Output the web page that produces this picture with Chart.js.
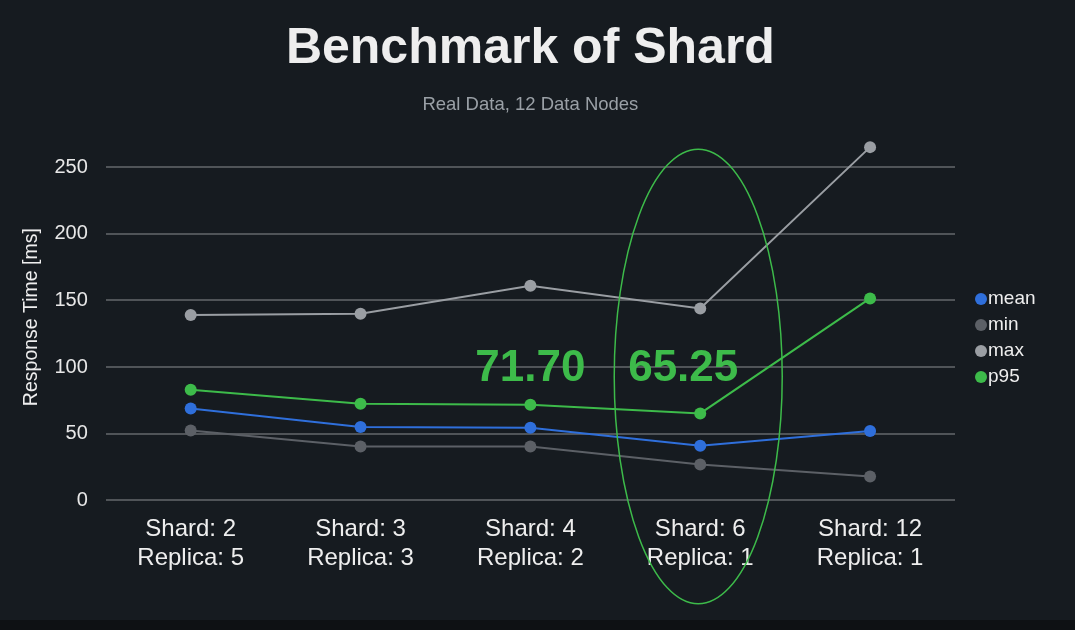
<!DOCTYPE html>
<html>
<head>
<meta charset="utf-8">
<script src="https://cdn.jsdelivr.net/npm/chart.js@4.4.1/dist/chart.umd.min.js"></script>
<style>
  html, body { margin: 0; padding: 0; background: #0e1114; }
  #wrap { position: relative; width: 1075px; height: 620px; background: #161b20; }
  #legend { position: absolute; left: 975px; top: 286px; font: 19px "Liberation Sans", Arial, sans-serif; color: #eeeeee; }
  #legend div { height: 26px; line-height: 24px; white-space: nowrap; }
  #legend span { display: inline-block; width: 12px; height: 12px; border-radius: 50%; margin-right: 1px; vertical-align: -1px; }
</style>
</head>
<body>
<div id="wrap">
  <canvas id="shardChart" width="1075" height="620"></canvas>
  <div id="legend"></div>
</div>
<script>
Chart.defaults.color = '#e8e8e8'
Chart.defaults.font.family = '"Liberation Sans", Arial, sans-serif'

const categories = [
    ['Shard: 2', 'Replica: 5'],
    ['Shard: 3', 'Replica: 3'],
    ['Shard: 4', 'Replica: 2'],
    ['Shard: 6', 'Replica: 1'],
    ['Shard: 12', 'Replica: 1']
]
const meanValues = [69, 55, 54.5, 41, 52]
const minValues = [52.5, 40.5, 40.5, 27, 18]
const maxValues = [139, 140, 161, 144, 265]
const p95Values = [83, 72.5, 71.7, 65.25, 151.5]
const yTicks = [0, 50, 100, 150, 200, 250]

// big callouts over the chart
const callouts = [
    { text: '71.70', index: 2, value: 99 },
    { text: '65.25', index: 3, value: 99 }
]

const green = '#3dbb4a'

const makeSet = (label, data, color) => ({
    label,
    data,
    borderColor: color,
    backgroundColor: color,
    borderWidth: 2,
    pointRadius: 6,
    pointHoverRadius: 6,
    pointBorderWidth: 0,
    tension: 0
})

const highlightPlugin = {
    id: 'highlight',
    afterDatasetsDraw(chart) {
        const { ctx, scales: { x, y } } = chart
        ctx.save()
        ctx.fillStyle = green
        ctx.font = 'bold 44px "Liberation Sans", Arial, sans-serif'
        ctx.textAlign = 'center'
        ctx.textBaseline = 'middle'
        callouts.forEach(c => {
            const dx = c.index === 3 ? -17 : 0
            ctx.fillText(c.text, x.getPixelForValue(c.index) + dx, y.getPixelForValue(c.value))
        })
        // ellipse round the Shard 6 column
        const cx = x.getPixelForValue(3) - 2
        const top = y.getPixelForValue(263.5)
        const cy = y.getPixelForValue(93)
        ctx.beginPath()
        ctx.strokeStyle = green
        ctx.lineWidth = 1.5
        ctx.ellipse(cx, cy, 84, cy - top, 0, 0, Math.PI * 2)
        ctx.stroke()
        ctx.restore()
    }
}

const data = {
    labels: categories,
    datasets: [
        makeSet('mean', meanValues, '#2f6fdb'),
        makeSet('min', minValues, '#5c6066'),
        makeSet('max', maxValues, '#9a9ea3'),
        makeSet('p95', p95Values, green)
    ]
}

const options = {
    responsive: false,
    animation: false,
    layout: { padding: { left: 20, right: 120, top: 0, bottom: 40 } },
    plugins: {
        title: {
            display: true,
            fullSize: false,
            text: 'Benchmark of Shard',
            color: '#eeeeee',
            font: { size: 50, weight: 'bold' },
            padding: { top: 19, bottom: 5 }
        },
        subtitle: {
            display: true,
            fullSize: false,
            text: 'Real Data, 12 Data Nodes',
            color: '#9aa0a6',
            font: { size: 18.5 },
            padding: { top: 10, bottom: 17.6 }
        },
        legend: { display: false },
        tooltip: { enabled: false }
    },
    scales: {
        x: {
            offset: true,
            grid: { display: false },
            border: { display: false },
            ticks: {
                color: '#eeeeee',
                font: { size: 24, lineHeight: 1.2 },
                padding: 7,
                maxRotation: 0
            }
        },
        y: {
            min: 0,
            max: 275,
            border: { display: false },
            grid: { color: '#505458', lineWidth: 2, drawTicks: false },
            ticks: { stepSize: 50, color: '#e8e8e8', font: { size: 20 }, padding: 18 },
            afterBuildTicks: axis => { axis.ticks = yTicks.map(v => ({ value: v })) },
            title: {
                display: true,
                text: 'Response Time [ms]',
                color: '#eeeeee',
                font: { size: 19.5 },
                padding: { top: 0, bottom: -7 }
            }
        }
    }
}

const chart = new Chart('shardChart', { type: 'line', data, options, plugins: [highlightPlugin] })

// legend as plain html, built from the datasets
document.getElementById('legend').innerHTML = chart.data.datasets
    .map(ds => `<div><span style="background:${ds.borderColor}"></span>${ds.label}</div>`)
    .join('')
</script>
</body>
</html>
